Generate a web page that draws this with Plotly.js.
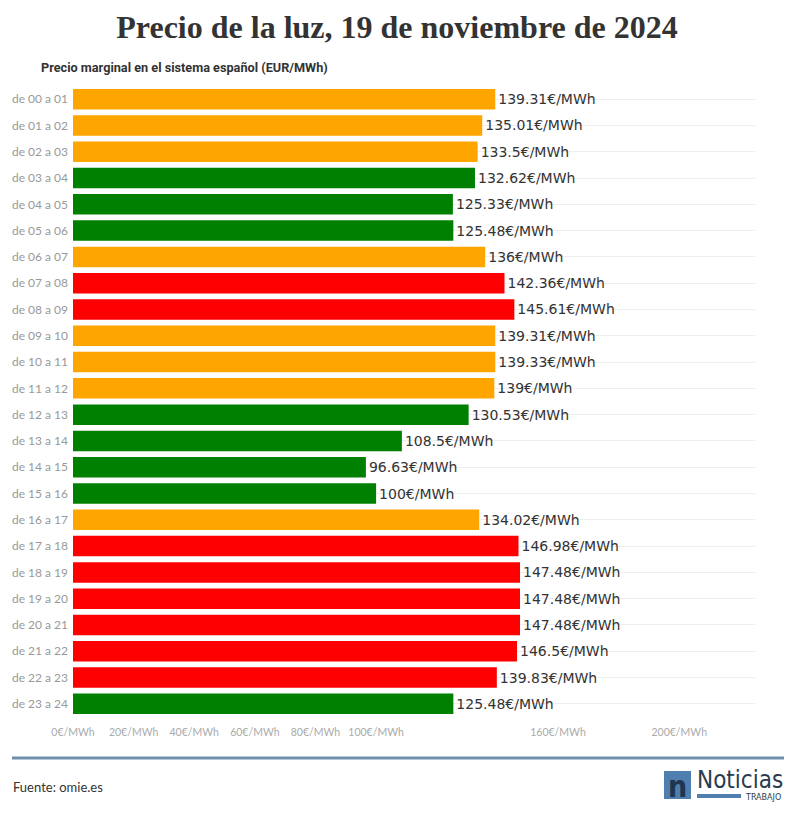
<!DOCTYPE html>
<html>
<head>
<meta charset="utf-8">
<script src="https://cdn.plot.ly/plotly-3.0.1.min.js"></script>
<style>
html,body{margin:0;padding:0;background:#fff;}
#chart{width:794px;height:817px;}
</style>
</head>
<body>
<div id="chart"></div>
<script>
const hours = ["de 00 a 01","de 01 a 02","de 02 a 03","de 03 a 04","de 04 a 05","de 05 a 06","de 06 a 07","de 07 a 08","de 08 a 09","de 09 a 10","de 10 a 11","de 11 a 12","de 12 a 13","de 13 a 14","de 14 a 15","de 15 a 16","de 16 a 17","de 17 a 18","de 18 a 19","de 19 a 20","de 20 a 21","de 21 a 22","de 22 a 23","de 23 a 24"];
const prices = [139.31,135.01,133.5,132.62,125.33,125.48,136,142.36,145.61,139.31,139.33,139,130.53,108.5,96.63,100,134.02,146.98,147.48,147.48,147.48,146.5,139.83,125.48];
const levels = ["mid","mid","mid","low","low","low","mid","high","high","mid","mid","mid","low","low","low","low","mid","high","high","high","high","high","high","low"];
const tickValues = [0,20,40,60,80,100,160,200];
const tickLabels = ["0€/MWh","20€/MWh","40€/MWh","60€/MWh","80€/MWh","100€/MWh","160€/MWh","200€/MWh"];

const levelColors = {low:"#008000", mid:"#FFA500", high:"#FF0000"};

const W = 794, H = 817;
const M = {l:73, r:39, t:86, b:100};
const PW = W - M.l - M.r, PH = H - M.t - M.b;
const px = x => (x - M.l) / PW;
const py = y => (H - M.b - y) / PH;

const trace = {
  type: "bar",
  orientation: "h",
  y: hours,
  x: prices,
  marker: {color: levels.map(l => levelColors[l]), line:{width:0}},
  text: prices.map(v => v + "€/MWh"),
  textposition: "outside",
  textfont: {family: "DejaVu Sans", size: 14, color: "#333"},
  cliponaxis: false,
  hoverinfo: "none"
};

const layout = {
  width: W, height: H,
  margin: M,
  paper_bgcolor: "#fff",
  plot_bgcolor: "#fff",
  bargap: 0.22,
  showlegend: false,
  title: {
    text: "Precio de la luz, 19 de noviembre de 2024",
    x: 0.5, xref: "container", xanchor: "center",
    y: 1 - 27 / H, yref: "container", yanchor: "middle",
    font: {family: "Liberation Serif, serif", size: 32, color: "#333", weight: "bold"}
  },
  xaxis: {
    range: [0, 225],
    tickvals: tickValues,
    ticktext: tickLabels,
    tickangle: 0,
    showgrid: false,
    zeroline: false,
    showline: false,
    ticks: "",
    ticklabelstandoff: 7,
    tickfont: {family: "Lato", size: 10.5, color: "#aaa"},
    fixedrange: true
  },
  yaxis: {
    type: "category",
    autorange: "reversed",
    showgrid: true,
    gridcolor: "#eeeeee",
    gridwidth: 1,
    zeroline: false,
    showline: false,
    ticks: "",
    ticklabelstandoff: 4,
    tickfont: {family: "Lato", size: 12, color: "#999"},
    fixedrange: true
  },
  shapes: [
    {type:"line", xref:"paper", yref:"paper", x0:px(12), x1:px(784), y0:py(758), y1:py(758), line:{color:"#6f8fad", width:3}},
    {type:"rect", xref:"paper", yref:"paper", x0:px(664), x1:px(691), y0:py(799), y1:py(771), fillcolor:"#4f7fae", line:{width:0}},
    {type:"rect", xref:"paper", yref:"paper", x0:px(697), x1:px(741), y0:py(798), y1:py(794), fillcolor:"#4f7fae", line:{width:0}}
  ],
  annotations: [
    {text:"<b>Precio marginal en el sistema español (EUR/MWh)</b>", xref:"paper", yref:"paper", x:px(39), y:py(68), xanchor:"left", yanchor:"middle", showarrow:false, font:{family:"Roboto", size:12.7, color:"#333"}},
    {text:"Fuente: omie.es", xref:"paper", yref:"paper", x:px(11), y:py(787), xanchor:"left", yanchor:"middle", showarrow:false, font:{family:"Lato", size:13, color:"#333"}},
    {text:"n", xref:"paper", yref:"paper", x:px(677.5), y:py(786), xanchor:"center", yanchor:"middle", showarrow:false, font:{family:"DejaVu Sans Condensed, DejaVu Sans", size:30, color:"#1f3550", weight:"bold"}},
    {text:"Noticias", xref:"paper", yref:"paper", x:px(695), y:py(780), xanchor:"left", yanchor:"middle", showarrow:false, font:{family:"DejaVu Sans Condensed, Liberation Sans Narrow, sans-serif", size:24, color:"#2b3b4e"}},
    {text:"TRABAJO", xref:"paper", yref:"paper", x:px(783), y:py(797), xanchor:"right", yanchor:"middle", showarrow:false, font:{family:"DejaVu Sans", size:8, color:"#2b3b4e"}}
  ]
};

Plotly.newPlot("chart", [trace], layout, {displayModeBar:false, staticPlot:true});
</script>
</body>
</html>
